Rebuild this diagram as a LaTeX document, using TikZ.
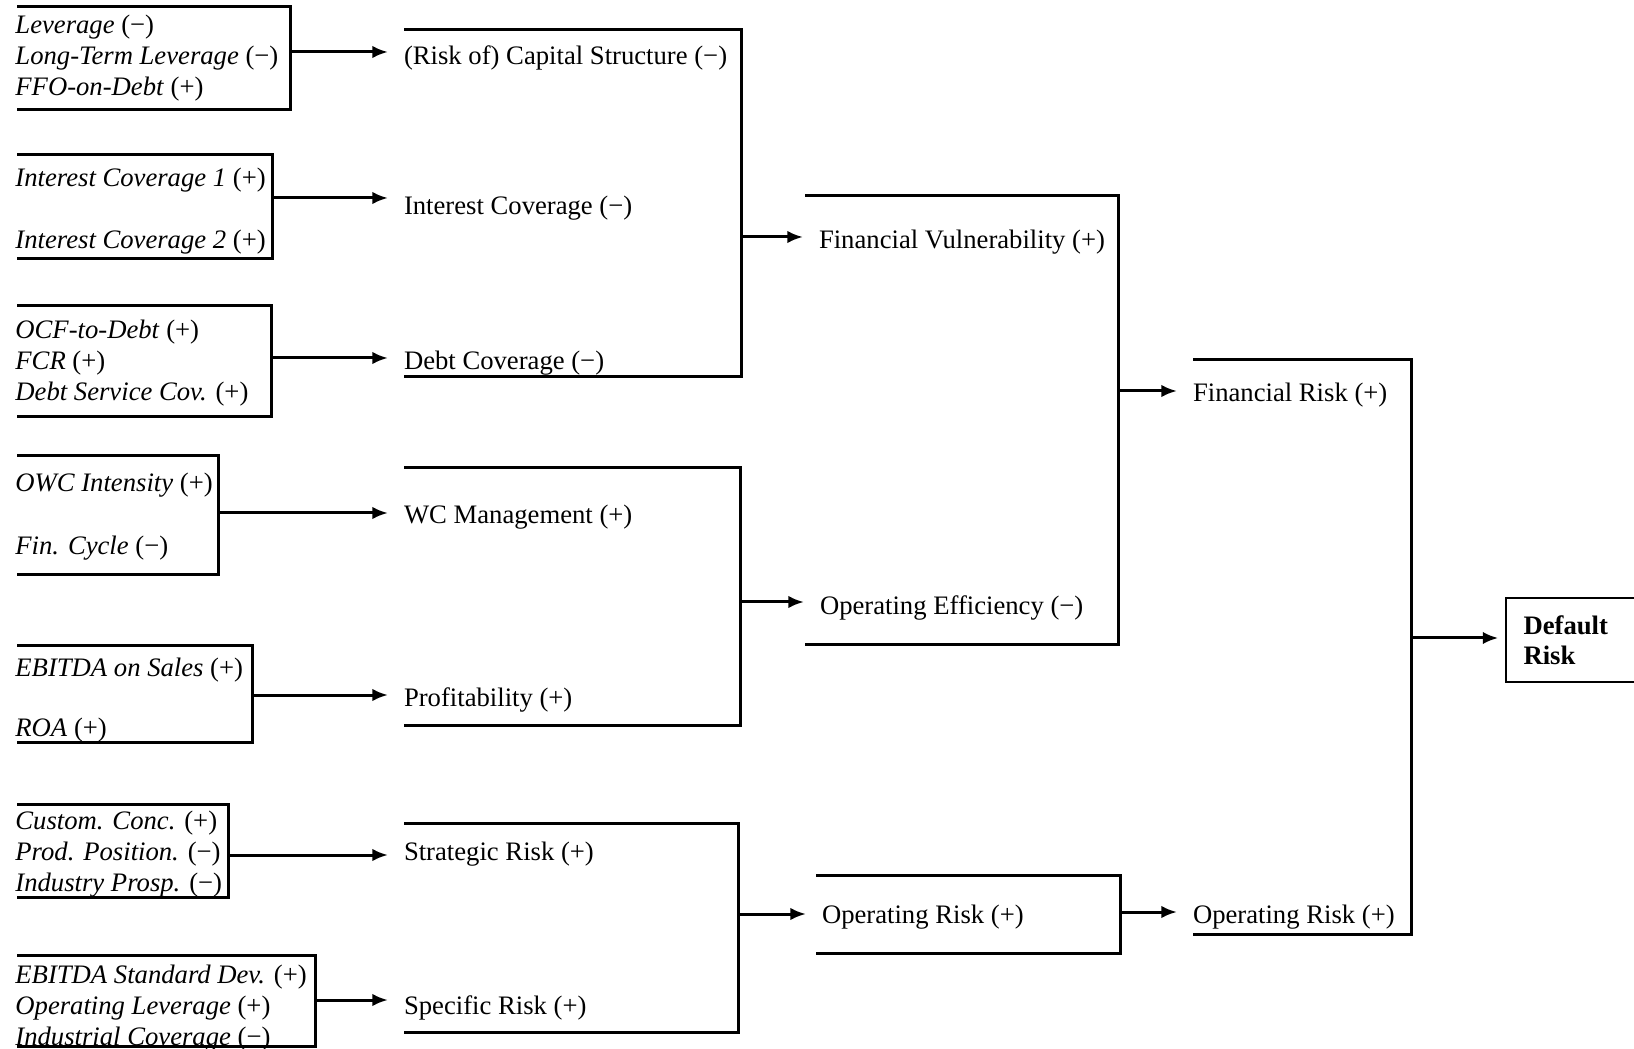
\documentclass[tikz,border=0pt]{standalone}
\usepackage{fontspec}
\setmainfont{Liberation Serif}
\usetikzlibrary{arrows.meta,positioning}
\tikzset{>/.tip={Latex[length=7pt,width=5.6pt]}}

\begin{document}
\begin{tikzpicture}[x=0.45pt,y=-0.45pt,font=\fontsize{12}{13.9}\selectfont,
    ind/.style={anchor=west,align=left,inner sep=0pt},
    lab/.style={anchor=west,inner xsep=7pt,inner ysep=0pt},
    brk/.style={line width=1.35pt},
    arr/.style={->,line width=1.35pt}]
  \useasboundingbox (0,0) rectangle (1634,1049);
  % indicators
  \node[ind](lev) at (15,58) {\textit{Leverage} (−)\\\textit{Long-Term Leverage} (−)\\\textit{FFO-on-Debt} (+)};
  \node[ind](icv) at (15,211) {\textit{Interest Coverage 1} (+)\\[14pt]\textit{Interest Coverage 2} (+)};
  \node[ind](ocf) at (15,363) {\textit{OCF-to-Debt} (+)\\\textit{FCR} (+)\\\textit{Debt Service Cov.} (+)};
  \node[ind](owc) at (15,517) {\textit{OWC Intensity} (+)\\[14.4pt]\textit{Fin. Cycle} (−)};
  \node[ind](ebs) at (15,700) {\textit{EBITDA on Sales} (+)\\[13.1pt]\textit{ROA} (+)};
  \node[ind](cus) at (15,854) {\textit{Custom. Conc.} (+)\\\textit{Prod. Position.} (−)\\\textit{Industry Prosp.} (−)};
  \node[ind](ebd) at (15,1008) {\textit{EBITDA Standard Dev.} (+)\\\textit{Operating Leverage} (+)\\\textit{Industrial Coverage} (−)};
  % brackets round the indicators
  \draw[brk] (17,7) -| (290,110) -- (17,110);
  \draw[brk] (17,155) -| (272,259) -- (17,259);
  \draw[brk] (17,306) -| (271,417) -- (17,417);
  \draw[brk] (17,456) -| (218,575) -- (17,575);
  \draw[brk] (17,646) -| (252,742) -- (17,742);
  \draw[brk] (17,804) -| (228,897) -- (17,897);
  \draw[brk] (17,955) -| (315,1046) -- (17,1046);
  \coordinate (lev-r) at (290,52);
  \coordinate (icv-r) at (272,198);
  \coordinate (ocf-r) at (271,358);
  \coordinate (owc-r) at (218,513);
  \coordinate (ebs-r) at (252,695);
  \coordinate (cus-r) at (228,855);
  \coordinate (ebd-r) at (315,1000);
  % first level
  \node[lab](cap) at (388,58) {(Risk of) Capital Structure (−)};
  \node[lab](int) at (388,208) {Interest Coverage (−)};
  \node[lab](dcv) at (388,363) {Debt Coverage (−)};
  \node[lab](wcm) at (388,517) {WC Management (+)};
  \node[lab](prf) at (388,700) {Profitability (+)};
  \node[lab](str) at (388,854) {Strategic Risk (+)};
  \node[lab](spc) at (388,1008) {Specific Risk (+)};
  \draw[arr] (lev-r) -- (lev-r -| cap.west);
  \draw[arr] (icv-r) -- (icv-r -| int.west);
  \draw[arr] (ocf-r) -- (ocf-r -| dcv.west);
  \draw[arr] (owc-r) -- (owc-r -| wcm.west);
  \draw[arr] (ebs-r) -- (ebs-r -| prf.west);
  \draw[arr] (cus-r) -- (cus-r -| str.west);
  \draw[arr] (ebd-r) -- (ebd-r -| spc.west);
  \draw[brk] (404,30) -| (741,377) -- (404,377);
  \draw[brk] (404,468) -| (740,725) -- (404,725);
  \draw[brk] (404,823) -| (738,1032) -- (404,1032);
  \coordinate (fin-r) at (741,237);
  \coordinate (eff-r) at (740,602);
  \coordinate (opr-r) at (738,914);
  % second level
  \node[lab](vul) at (803,242) {Financial Vulnerability (+)};
  \node[lab](eff) at (804,608) {Operating Efficiency (−)};
  \node[lab](opr) at (806,917) {Operating Risk (+)};
  \draw[arr] (fin-r) -- (fin-r -| vul.west);
  \draw[arr] (eff-r) -- (eff-r -| eff.west);
  \draw[arr] (opr-r) -- (opr-r -| opr.west);
  \draw[brk] (805,196) -| (1118,645) -- (805,645);
  \draw[brk] (816,875) -| (1120,953) -- (816,953);
  \coordinate (vul-r) at (1118,391);
  \coordinate (opr2-r) at (1120,912);
  % third level
  \node[lab](frk) at (1177,395) {Financial Risk (+)};
  \node[lab](ork) at (1177,917) {Operating Risk (+)};
  \draw[arr] (vul-r) -- (vul-r -| frk.west);
  \draw[arr] (opr2-r) -- (opr2-r -| ork.west);
  \draw[brk] (1193,360) -| (1411,934) -- (1193,934);
  \coordinate (rsk-r) at (1411,638);
  \node[draw,line width=0.7pt,anchor=west,align=left,text width=60pt,inner xsep=8pt,
    minimum height=37.8pt,font=\fontsize{12}{13.6}\selectfont\bfseries](dft) at (1505,640) {Default\\Risk};
  \draw[arr,shorten >=3pt] (rsk-r) -- (rsk-r -| dft.west);
\end{tikzpicture}
\end{document}
